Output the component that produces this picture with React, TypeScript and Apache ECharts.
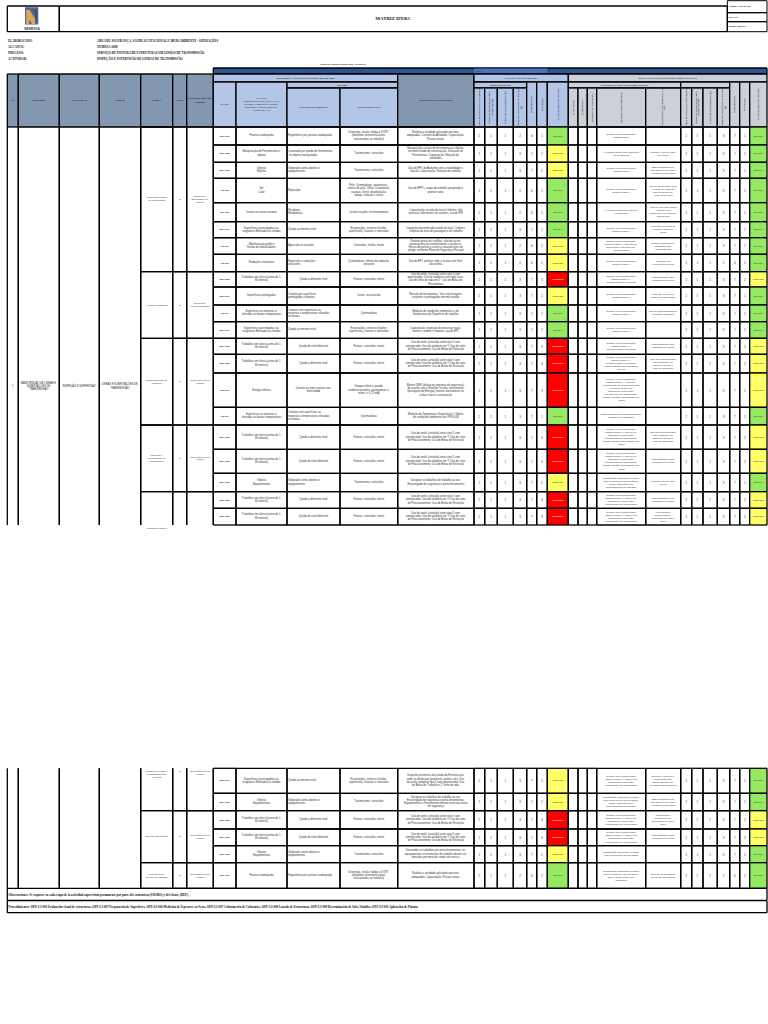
import React, { useEffect, useRef } from "react";
import * as echarts from "echarts";

// ---------------- DATA ----------------
const TITLE = "MATRIZ IPERC";
const DOC_INFO = ["Código: SIG-F-008", "Rev.: 00", "Fecha: 2008/05"];
const INFO_LABELS = ["ELABORACION:", "ALCANCE:", "PROCESO:", "ACTIVIDAD:"];
const INFO_VALUES = [
  "AREA DE SEGURANÇA, SAÚDE OCUPACIONAL E MEIO AMBIENTE - OPERAÇÕES",
  "NUMESA-2008",
  "SERVIÇO DE PINTURA DE ESTRUTURAS EM LINHAS DE TRANSMISSÃO",
  "INSPEÇÃO E SUPERVISÃO DE LINHAS DE TRANSMISSÃO",
];
const FECHA = "Fecha de Creación Matriz Base: 18/08/2010";

const HEAD_LEFT = ["N°", "PROCESO", "ACTIVIDAD", "LUGAR", "TAREA", "TIPO", "RESPONSABLE DE TAREFA"];
const HEAD_EVAL = [
  "ÍNDICE DE PERSONAS EXPUESTAS (A)",
  "ÍNDICE DE PROCEDIMIENTOS EXISTENTES (B)",
  "ÍNDICE DE CAPACITACIÓN (C)",
  "ÍNDICE DE EXPOSICIÓN AL RIESGO (D)",
  "PROBABILIDAD",
  "SEVERIDAD",
  "CLASIFICACIÓN DEL RIESGO",
];
const HEAD_NEW = ["ELIMINACIÓN", "SUSTITUCIÓN", "CONTROL DE INGENIERÍA", "CONTROL ADMINISTRATIVO", "SEÑALIZACIÓN, ADVERTENCIA Y/O EPP"];

const LEFT_TEXTS = ["1", "MANUTENÇÃO DE LINHAS E SUBESTAÇÕES DE TRANSMISSÃO", "INSPEÇÃO E SUPERVISÃO", "LINHAS E SUBESTAÇÕES DE TRANSMISSÃO"];

const TAREAS = ["Verificação perdas de ferramentas", "Acessar à estrutura", "Posicionamento na estrutura", "Inspeção e levantamento de informações", "", "Medidas de ajuste e levantamento dos veículos", "Descida da estrutura", "Segurança de Veículos de Trabalho"];
const TIPOS = ["R", "R", "R", "R", "", "R", "R", "R"];
const RESPONSABLES = ["Supervisor/Encarregado de Campo", "Supervisor/ Técnico Qualidade", "Supervisor/Técnico Campo", "Supervisor/Técnico Campo", "", "Supervisor/Técnico Campo", "Supervisor/Técnico Campo", "Supervisor/Técnico Campo"];

const CLASES = ["ERG-001", "MEC-002", "MEC-003", "FIS-002", "BIO-001", "MEC-004", "PSI-001", "FIS-003", "MEC-005", "MEC-007", "FIS-004", "MEC-004", "MEC-005", "MEC-005", "ELE-001", "FIS-004", "MEC-005", "MEC-005", "MEC-003", "MEC-005", "MEC-005", "MEC-004", "MEC-003", "MEC-005", "MEC-005", "MEC-003", "ERG-001"];

const ALT = "Trabalhos em altura (acima de 1,80 metros)";
const ESC = "Superfícies escorregadias ou irregulares Molhadas ou úmidas";
const OBJ = "Objetos\nEquipamentos";
const TEMP = "Superfícies ou materiais a elevadas ou baixas temperaturas";
const PELIGROS = ["Postura inadequada", "Manipulação de Ferramentas e objetos", "Objetos\nRejeitos", "Sol\nCalor", "Insetos ou outros animais", ESC, "Manifestação pública\nRoubo de trabalhadores", "Radiações ionizantes", ALT, "Superfícies pontiagudas", TEMP, ESC, ALT, ALT, "Energia elétrica", TEMP, ALT, ALT, OBJ, ALT, ALT, ESC, OBJ, ALT, ALT, OBJ, "Postura inadequada"];

const QDN = "Queda a diferente nível";
const QMN = "Queda ao mesmo nível";
const GOL = "Golpeado contra objetos e equipamentos";
const EVENTOS = ["Ergonômico por postura inadequada", "Lesionado por queda de ferramentas ou objetos manipulados", GOL, "Exposição", "Picaduras\nMordeduras", QMN, "Agressão ou assaltos", "Exposição a radiações ionizantes", QDN, "Contato por superfícies pontiagudas cortantes", "Contato com superfícies ou materiais a temperaturas elevadas ou baixas", QMN, "Queda de nível diferente", QDN, "Contato ou semi contato com eletricidade", "Contato com superfícies ou materiais a temperaturas elevadas ou baixas", QDN, "Queda de nível diferente", GOL, QDN, "Queda de nível diferente", QMN, GOL, QDN, "Queda de nível diferente", GOL, "Ergonômico por postura inadequada"];

const FRA = "Fratura, contusões, morte";
const TRA = "Traumatismo, contusões";
const ESCO = "Escoriações, entorses (lesões superficiais), fraturas e contusões";
const CONSECUENCIAS = ["Distensão, torção, fadiga e DORT (distúrbios osteomusculares relacionados ao trabalho)", TRA, TRA, "Pele: Queimaduras, queratoses, câncer de pele. Olhos: Conjuntivite, catarata. Geral: desidratação, fadiga, irritação e stress", "Lesões na pele, envenenamento", ESCO, "Contusões, lesões, morte", "Queimaduras, efeitos de radiação ionizante", FRA, "Cortes, escoriações", "Queimaduras", ESCO, FRA, FRA, "Choque elétrico, parada cardiorrespiratória, queimaduras e morte (> 0,15 mA)", "Queimaduras", FRA, FRA, TRA, FRA, FRA, ESCO, TRA, FRA, FRA, TRA, "Distensão, torção, fadiga e DORT (distúrbios osteomusculares relacionados ao trabalho)"];

const ARN = "Uso de arnês (cinturão) antes tipo II com amortecedor; Uso de talabarte em Y; Uso de cinto de Posicionamento; Uso de Bolsa de Restrição";
const DES = "Designar os trabalhos de trabalho ao seu Encarregado de segurança e porta-ferramentas";
const CONTROLES = [
  "Realizar a atividade aplicando posturas adequadas. Controle da Atividade. Capacitação. Pausas ativas.",
  "Manipulação correta de ferramentas ou objetos em bom estado de conservação. Utilização de Ferramentas. Capacitação. Rotação de atividades.",
  "Uso de EPI, do Andaime com a estabilidade e fixação. Capacitação. Rotação do trabalho.",
  "Uso de EPP's, roupa de trabalho apropriada e protetor solar.",
  "Capacitação, revisão do local e hábitos, não provocar, não mexer nos animais, uso de EPI.",
  "Inspeção preventiva do estado do local. Ordem e Limpeza da área de passagem e de trabalho.",
  "Realizar prova de conflitos, não dar ou ter provocações aos manifestantes e ajudar as Forças de polícia a conter a situação ante um abrigo, conforme Plano de Segurança Pessoal.",
  "Uso de EPI, protetor solar e óculos com filtro ultravioleta.",
  "Uso de arnês (cinturão) antes tipo II com amortecedor; Uso de talabarte com tripla trava; Uso de linha de vida em 2°; Uso de Bolsa de Ferramentas",
  "Revisão de ferramentas. Troca de ferragens cortantes e pontiagudas em mal estado.",
  "Medição de condições ambientais e de Temperatura da Superfície de trabalho.",
  "Capacitação, inspeção do processo visual, manter a ordem e limpeza, uso de EPI.",
  ARN,
  ARN,
  "Manter DMS (distâncias mínimas de segurança) de acordo com o Nível de Tensão; aterramento (drenagem da Energia); manter aterramento na Linha e fazer a autorização.",
  "Medição da Temperatura Superficial e / Tabela de condições ambientais do OPIS-008",
  ARN,
  ARN,
  DES,
  ARN,
  ARN,
  "Inspeção preventiva do estado da Estrutura por onde se deslocará (parafusos, pontas, etc); Uso de arnês completo tipo II com amortecedor; Uso de Bolsa de Trabalho e 2° linha de vida.",
  DES + "; Equipamentos e Ferramentas devem estar nas áreas de segurança.",
  ARN,
  ARN,
  "Descender os trabalhos por porta-ferramentas; os equipamentos e ferramentas de trabalho devem ser descidos por meio de cordas de serviço.",
  "Realizar a atividade aplicando posturas adequadas. Capacitação. Pausas ativas.",
];

// Evaluación de riesgo
const EV_A = [2, 2, 2, 2, 2, 2, 2, 2, 2, 2, 2, 2, 2, 2, 2, 2, 2, 2, 2, 2, 2, 2, 2, 2, 2, 2, 2];
const EV_B = [1, 1, 1, 1, 1, 1, 1, 1, 1, 1, 1, 1, 1, 1, 1, 1, 1, 1, 1, 1, 1, 1, 1, 1, 1, 1, 1];
const EV_C = [1, 1, 1, 1, 1, 1, 1, 1, 1, 1, 1, 1, 1, 1, 1, 1, 1, 1, 1, 1, 1, 1, 1, 1, 1, 1, 1];
const EV_D = [2, 3, 3, 2, 2, 3, 2, 2, 3, 3, 3, 3, 3, 3, 3, 3, 3, 3, 3, 3, 3, 3, 3, 3, 3, 3, 2];
const EV_P = [6, 7, 7, 6, 6, 7, 6, 6, 7, 7, 7, 7, 7, 7, 7, 7, 7, 7, 7, 7, 7, 7, 7, 7, 7, 7, 6];
const EV_S = [1, 2, 2, 1, 1, 1, 2, 2, 3, 2, 1, 1, 3, 3, 3, 1, 3, 3, 2, 3, 3, 2, 2, 3, 3, 2, 1];
const EV_NIVEL = ["Tolerável", "Moderado", "Moderado", "Tolerável", "Tolerável", "Tolerável", "Moderado", "Moderado", "Importante", "Moderado", "Tolerável", "Tolerável", "Importante", "Importante", "Importante", "Tolerável", "Importante", "Importante", "Moderado", "Importante", "Importante", "Moderado", "Moderado", "Importante", "Importante", "Moderado", "Tolerável"];

// Controles nuevos
const CUM = "Cumprir os procedimentos estabelecidos (*)";
const DIR = "Cumprir os procedimentos estabelecidos (*); Diretriz de Segurança; supervisão permanente por especialista";
const CON = "Constatação adequada (Pessoal com experiência) aplicar NOP1; seguir Instruções dos Procedimentos de trabalho";
const NEW_ADMIN = ["Cumprir os procedimentos estabelecidos", "Ao conhecimento das instruções de ferramenta", "Cumprir os procedimentos estabelecidos", CUM, "Ao conhecimento do plano de emergência", CUM, CUM + "; Direção de Segurança e alocação por especialidade", CUM, CUM + "; Sensibilizações periódicas", CUM, CUM, CUM, CUM + "; Sensibilizações periódicas", CUM + "; Sensibilizações periódicas; possuir aptidão para trabalhos aéreos", CUM + " (Tabela); Implantação de segurança pelas técnicas; " + "Diretriz de Segurança; supervisão permanente por especialista; possuir aptidão para trabalho em altura", "Cumprimento dos Procedimentos de trabalho em instruções", DIR + "; possuir aptidão para trabalho em altura", DIR + "; possuir aptidão para trabalho em altura", CON, DIR, DIR, DIR, CON, DIR, DIR, "Constatação adequada (Pessoal com experiência) aplicar NOP1", "Constatação adequada (Pessoal com experiência) aplicar NOP1; DPS e Sinalização para instruções"];
const CIN = "Cinto/Talabarte para Trabalhos em altura";
const EQA = "Uso dos equipamentos para trabalhos em altura de acordo à ficha do fabricante";
const NEW_EPP = ["", "Trocada / Uso de cabo de perigo", "Estar Sinalizado em atividades a executar / Cordas incorporadas", "Uso de Bloqueador solar e roupa de proteção para incidência de raios ultravioleta", "Uso de repelente contra insetos e ser conhecedor do plano de emergência", "Inspeção de áreas de trabalho antes de iniciar", "Manter distâncias de segurança das manifestações", "Minimizar as exposições solares", CIN, "Inspeção e troca de partes em mau estado", "Uso de equipamentos de medição calibrados", "", CIN, EQA, "", "", EQA, CIN, "Cercado Tela de risco perigo", CIN, "Ancoramento / sinalização de segurança no corpo ativo", "Realizar a limpeza e sinalização das áreas, atenção em calçados com bloqueios", "Estar Sinalizado em atividades a executar / Cordas incorporadas", "Ancoramento / sinalização de segurança no corpo ativo", CIN, "", "Realizar as atividades por turnos de trabalho"];

// Reevaluación
const RE_A = [2, 2, 2, 2, 2, 2, 2, 2, 2, 2, 2, 2, 2, 2, 2, 2, 2, 2, 2, 2, 2, 2, 2, 2, 2, 2, 2];
const RE_B = [1, 1, 1, 1, 1, 1, 1, 1, 1, 1, 1, 1, 1, 1, 1, 1, 1, 1, 1, 1, 1, 1, 1, 1, 1, 1, 1];
const RE_C = [1, 1, 1, 1, 1, 1, 1, 1, 1, 1, 1, 1, 1, 1, 1, 1, 1, 1, 1, 1, 1, 1, 1, 1, 1, 1, 1];
const RE_D = [3, 3, 3, 3, 3, 3, 3, 2, 3, 3, 3, 3, 3, 3, 3, 3, 3, 3, 3, 3, 3, 3, 3, 3, 3, 3, 2];
const RE_P = [7, 7, 7, 7, 7, 7, 7, 6, 7, 7, 7, 7, 7, 7, 7, 7, 7, 7, 7, 7, 7, 7, 7, 7, 7, 7, 6];
const RE_S = [1, 1, 1, 1, 1, 1, 1, 1, 2, 1, 1, 1, 2, 2, 2, 1, 2, 2, 1, 2, 2, 1, 1, 2, 2, 1, 1];
const RE_NIVEL = ["Tolerável", "Tolerável", "Tolerável", "Tolerável", "Tolerável", "Tolerável", "Tolerável", "Tolerável", "Moderado", "Tolerável", "Tolerável", "Tolerável", "Moderado", "Moderado", "Moderado", "Tolerável", "Moderado", "Moderado", "Tolerável", "Moderado", "Moderado", "Tolerável", "Tolerável", "Moderado", "Moderado", "Tolerável", "Tolerável"];

const OBSERVACIONES = "Observaciones: Se requiere en cada etapa de la actividad supervisión permanente por parte del contratista (SSOMA) y del cliente (DEP).";
const PROCEDIMIENTOS = "Procedimientos: OPE-LI-001 Evaluación visual de estructuras, OPE-LI-007 Preparación de Superficies, OPE-LI-006 Medición de Espesores en Secos, OPE-LI-007 Colorimetría de Colorantes, OPE-LI-008 Lavado de Estructuras, OPE-LI-009 Determinación de Sales Solubles, OPE-LI-010 Aplicación de Pintura";

// ---------------- LAYOUT ----------------
const W = 768;
const H = 1024;
const SERIF = "'Liberation Serif','DejaVu Serif',serif";
const SANS = "'Liberation Sans','DejaVu Sans',sans-serif";
const C_BLUE_DARK = "#2f5496";
const C_BLUE_L = "#b4c6e7";
const C_GRAY = "#8497b0";
const C_GRAY_L = "#cbd0d9";
const LEVEL_COLOR: Record<string, string> = { "Tolerável": "#95e85f", Moderado: "#ffff66", Importante: "#ff0000" };

const XL = [7.3, 18.3, 59.3, 99.3, 140.7, 172.7, 186.7, 213.3];
const XD = [213.3, 236, 287, 340, 397.7, 474];
const XE = [474, 484.7, 497.3, 513.3, 526.7, 536.7, 547.3, 568.3];
const XN = [568.3, 578, 587.3, 596.7, 645.7, 680.7];
const XR = [680.7, 691.7, 703, 717.3, 729.7, 739.7, 749.7, 767];
const ROWS1 = [127, 145, 162.3, 178.3, 202.7, 221.7, 237.7, 254.3, 271.7, 287, 305, 321.7, 338.3, 354.3, 373, 407.3, 425, 449.3, 473.3, 491.7, 508.3, 525];
const ROWS2 = [768.3, 793.3, 810.7, 829, 845.7, 862.7, 888.3];
const GROUPS = [[0, 7], [8, 11], [12, 15], [16, 18], [19, 20], [21, 22], [23, 25], [26, 26]];
const EVENTO_LEFT = [0, 1, 2, 3, 4, 5, 6, 7, 9, 10, 11, 15, 18, 21, 22, 25, 26];
const LINE_W = 1.3;

type Cell = {
  x0: number; y0: number; x1: number; y1: number;
  fill?: string; b?: string; text?: string; fs?: number; ff?: string; fw?: string;
  color?: string; rot?: boolean; align?: string; valign?: string; lw?: number;
};

function rowY(r: number): [number, number] {
  if (r < 21) return [ROWS1[r], ROWS1[r + 1]];
  return [ROWS2[r - 21], ROWS2[r - 20]];
}

function buildCells(): Cell[] {
  const cells: Cell[] = [];
  const add = (c: Cell) => cells.push(c);
  const HB = { ff: SERIF, fw: "bold", color: "#111" };

  // title box
  add({ x0: 7.3, y0: 6, x1: 59.3, y1: 31.7 });
  add({ x0: 59.3, y0: 6, x1: 727.3, y1: 31.7, text: TITLE, fs: 4.8, ...HB });
  const infoY = [0.7, 12.7, 21.7, 31.7];
  DOC_INFO.forEach((t, i) => add({ x0: 727.3, y0: infoY[i], x1: 767, y1: infoY[i + 1], text: t, fs: 2.7, align: "left", lw: 1, ...HB }));

  // header bars
  add({ x0: 213.3, y0: 68, x1: 767, y1: 74, fill: C_BLUE_DARK });
  add({ x0: 474, y0: 68.6, x1: 547.3, y1: 73.4, fill: "#4c72c0", b: "", text: "ALTO", fs: 2.4, align: "left", ff: SERIF, fw: "bold", color: "#1f3864" });

  // left header
  HEAD_LEFT.forEach((t, i) => add({ x0: XL[i], y0: 74, x1: XL[i + 1], y1: 127, fill: C_GRAY, text: t, fs: 2.7, ...HB }));

  // identification
  add({ x0: 213.3, y0: 74, x1: 397.7, y1: 82, fill: C_BLUE_L, text: "IDENTIFICACIÓN DE FACTORES DE RIESGO", fs: 2.7, ...HB });
  add({ x0: 213.3, y0: 82, x1: 236, y1: 127, fill: C_BLUE_L, text: "CLASE", fs: 2.6, ...HB });
  add({ x0: 236, y0: 82, x1: 287, y1: 127, fill: C_BLUE_L, text: "PELIGRO\n(considerar atividades, parte de seu atividade, o ambiente de trabalho, instalações e equipos, materiais, ferramentas, etc.)", fs: 2.5, ff: SERIF, color: "#111" });
  add({ x0: 287, y0: 82, x1: 397.7, y1: 88, fill: C_BLUE_L, text: "RIESGO", fs: 2.6, ...HB });
  add({ x0: 287, y0: 88, x1: 340, y1: 127, fill: C_BLUE_L, text: "EVENTO PELIGROSO", fs: 2.7, ...HB });
  add({ x0: 340, y0: 88, x1: 397.7, y1: 127, fill: C_BLUE_L, text: "CONSECUENCIAS", fs: 2.7, ...HB });
  add({ x0: 397.7, y0: 74, x1: 474, y1: 127, fill: C_GRAY, text: "CONTROLES EXISTENTES", fs: 2.7, ...HB });

  // evaluation header
  add({ x0: 474, y0: 74, x1: 568.3, y1: 82, fill: C_BLUE_L, text: "EVALUACIÓN DE RIESGO", fs: 2.6, ...HB });
  add({ x0: 474, y0: 82, x1: 526.7, y1: 88, fill: C_BLUE_L, text: "PROBABILIDADE", fs: 2.5, ...HB });
  for (let i = 0; i < 7; i++) {
    const top = i < 4 ? 88 : 82;
    add({ x0: XE[i], y0: top, x1: XE[i + 1], y1: 127, fill: C_BLUE_L, text: HEAD_EVAL[i], fs: 2.2, rot: true, ...HB });
  }

  // re-evaluation header
  add({ x0: 568.3, y0: 74, x1: 767, y1: 82, fill: C_GRAY_L, text: "REEVALUACIÓN DE RIESGOS (PROYECTADA)", fs: 2.6, ...HB });
  add({ x0: 568.3, y0: 82, x1: 680.7, y1: 88, fill: C_GRAY_L, text: "CONTROLES NUEVOS PROGRAMADOS", fs: 2.5, ...HB });
  add({ x0: 680.7, y0: 82, x1: 729.7, y1: 88, fill: C_GRAY_L });
  HEAD_NEW.forEach((t, i) => add({ x0: XN[i], y0: 88, x1: XN[i + 1], y1: 127, fill: C_GRAY_L, text: t, fs: 2.2, rot: true, ...HB }));
  for (let i = 0; i < 7; i++) {
    const top = i < 4 ? 88 : 82;
    add({ x0: XR[i], y0: top, x1: XR[i + 1], y1: 127, fill: C_GRAY_L, text: HEAD_EVAL[i], fs: 2.2, rot: true, ...HB });
  }

  // left merged columns
  for (let i = 0; i < 4; i++) {
    add({ x0: XL[i], y0: 127, x1: XL[i + 1], y1: 525, b: "lr" });
    add({ x0: XL[i], y0: 378, x1: XL[i + 1], y1: 395, b: "", text: LEFT_TEXTS[i], fs: 2.6, color: "#222" });
    add({ x0: XL[i], y0: 768.3, x1: XL[i + 1], y1: 888.3, b: "lr" });
  }

  // task groups
  GROUPS.forEach((g, gi) => {
    const y0 = rowY(g[0])[0];
    const y1 = rowY(g[1])[1];
    const b = gi === 4 ? "tlr" : gi === 5 ? "blr" : "tblr";
    const valign = gi === 5 ? "top" : "middle";
    add({ x0: XL[4], y0, x1: XL[5], y1, b, text: TAREAS[gi], fs: 2.5, valign });
    add({ x0: XL[5], y0, x1: XL[6], y1, b, text: TIPOS[gi], fs: 2.5, valign });
    add({ x0: XL[6], y0, x1: XL[7], y1, b, text: RESPONSABLES[gi], fs: 2.3, valign });
  });
  add({ x0: XL[4], y0: 525, x1: XL[5], y1: 530, b: "", text: "Medidas de ajuste e", fs: 2.3, valign: "top" });

  // data rows
  for (let r = 0; r < CLASES.length; r++) {
    const [y0, y1] = rowY(r);
    const base = { y0, y1, fs: 2.7 };
    add({ ...base, x0: XD[0], x1: XD[1], text: CLASES[r], fw: "bold", fs: 2.4 });
    add({ ...base, x0: XD[1], x1: XD[2], text: PELIGROS[r] });
    add({ ...base, x0: XD[2], x1: XD[3], text: EVENTOS[r], align: EVENTO_LEFT.includes(r) ? "left" : "center" });
    add({ ...base, x0: XD[3], x1: XD[4], text: CONSECUENCIAS[r] });
    add({ ...base, x0: XD[4], x1: XD[5], text: CONTROLES[r] });
    const ev = [EV_A[r], EV_B[r], EV_C[r], EV_D[r], EV_P[r], EV_S[r]];
    ev.forEach((v, i) => add({ ...base, x0: XE[i], x1: XE[i + 1], text: String(v), fs: 2.9 }));
    add({ ...base, x0: XE[6], x1: XE[7], fill: LEVEL_COLOR[EV_NIVEL[r]], text: EV_NIVEL[r], fs: 2.4, color: EV_NIVEL[r] === "Importante" ? "#ffffff" : "#333" });
    add({ ...base, x0: XN[0], x1: XN[1] });
    add({ ...base, x0: XN[1], x1: XN[2] });
    add({ ...base, x0: XN[2], x1: XN[3] });
    add({ ...base, x0: XN[3], x1: XN[4], text: NEW_ADMIN[r], fs: 2.5 });
    add({ ...base, x0: XN[4], x1: XN[5], text: NEW_EPP[r], fs: 2.5 });
    const re = [RE_A[r], RE_B[r], RE_C[r], RE_D[r], RE_P[r], RE_S[r]];
    re.forEach((v, i) => add({ ...base, x0: XR[i], x1: XR[i + 1], text: String(v), fs: 2.9 }));
    add({ ...base, x0: XR[6], x1: XR[7], fill: LEVEL_COLOR[RE_NIVEL[r]], text: RE_NIVEL[r], fs: 2.4, color: "#333" });
  }

  // footer
  add({ x0: 7.3, y0: 888.3, x1: 767, y1: 900.3, text: OBSERVACIONES, fs: 3.1, align: "left", ff: SERIF, fw: "bold", color: "#111" });
  add({ x0: 7.3, y0: 900.7, x1: 767, y1: 912.7, text: PROCEDIMIENTOS, fs: 3.1, align: "left", ff: SERIF, fw: "bold", color: "#111" });
  return cells;
}

export default function App() {
  const ref = useRef<HTMLDivElement>(null);
  useEffect(() => {
    if (!ref.current) return;
    const chart = echarts.init(ref.current, undefined, { renderer: "svg", width: W, height: H });
    const cells = buildCells();

    const graphic: any[] = [
      { type: "rect", shape: { x: 25, y: 7.2, width: 13.3, height: 17.3 }, style: { fill: "#56688c" } },
      { type: "polygon", shape: { points: [[26.2, 24.5], [26.2, 10], [29.5, 10], [35, 18.5], [35, 24.5], [32.2, 24.5], [29.2, 19.5], [29.2, 24.5]] }, style: { fill: "#e2a458" } },
      { type: "polygon", shape: { points: [[32.5, 10], [37, 10], [37, 22], [35, 18.5], [35, 12]] }, style: { fill: "#3e4f70" } },
      { type: "text", style: { text: "NEMESYA", x: 32, y: 28.3, align: "center", verticalAlign: "middle", fontSize: 3.2, fontWeight: "bold", fontFamily: SANS, fill: "#2b3a67" } },
      { type: "text", style: { text: FECHA, x: 343, y: 64.7, align: "center", verticalAlign: "middle", fontSize: 2.5, fontWeight: "bold", fontFamily: SERIF, fill: "#111" } },
    ];
    const infoY = [40.7, 46.3, 52.3, 58.3];
    INFO_LABELS.forEach((t, i) => {
      graphic.push({ type: "text", style: { text: t, x: 8, y: infoY[i], verticalAlign: "middle", fontSize: 3.1, fontWeight: "bold", fontFamily: SERIF, fill: "#111" } });
      graphic.push({ type: "text", style: { text: INFO_VALUES[i], x: 97, y: infoY[i], verticalAlign: "middle", fontSize: 3.1, fontWeight: "bold", fontFamily: SERIF, fill: "#111" } });
    });

    const option: any = {
      animation: false,
      grid: { left: 0, right: 0, top: 0, bottom: 0 },
      xAxis: { type: "value", min: 0, max: W, show: false },
      yAxis: { type: "value", min: 0, max: H, inverse: true, show: false },
      graphic,
      series: [
        {
          type: "custom",
          coordinateSystem: "cartesian2d",
          silent: true,
          clip: false,
          progressive: 0,
          encode: { x: [0, 2], y: [1, 3] },
          data: cells.map((c) => [c.x0, c.y0, c.x1, c.y1]),
          renderItem: (params: any, api: any) => {
            const c = cells[params.dataIndex];
            const a = api.coord([c.x0, c.y0]);
            const b = api.coord([c.x1, c.y1]);
            const x = a[0], y = a[1], w = b[0] - a[0], h = b[1] - a[1];
            const ch: any[] = [];
            if (c.fill) ch.push({ type: "rect", shape: { x, y, width: w, height: h }, style: { fill: c.fill } });
            const bd = c.b === undefined ? "tblr" : c.b;
            const ls = { stroke: "#000", lineWidth: c.lw || LINE_W };
            if (bd.includes("t")) ch.push({ type: "line", shape: { x1: x, y1: y, x2: x + w, y2: y }, style: ls });
            if (bd.includes("b")) ch.push({ type: "line", shape: { x1: x, y1: y + h, x2: x + w, y2: y + h }, style: ls });
            if (bd.includes("l")) ch.push({ type: "line", shape: { x1: x, y1: y, x2: x, y2: y + h }, style: ls });
            if (bd.includes("r")) ch.push({ type: "line", shape: { x1: x + w, y1: y, x2: x + w, y2: y + h }, style: ls });
            if (c.text) {
              const fs = c.fs || 2.7;
              const st: any = {
                text: c.text,
                fill: c.color || "#333",
                fontSize: fs,
                fontFamily: c.ff || SANS,
                fontWeight: c.fw || "normal",
                lineHeight: fs * 1.22,
                overflow: "break",
              };
              if (c.rot) {
                ch.push({ type: "text", x: x + w / 2, y: y + h / 2, rotation: Math.PI / 2, style: { ...st, x: 0, y: 0, align: "center", verticalAlign: "middle", width: h - 2 } });
              } else {
                const al = c.align || "center";
                const tx = al === "left" ? x + 1.2 : x + w / 2;
                const va = c.valign || "middle";
                const ty = va === "top" ? y + 1.5 : y + h / 2;
                ch.push({ type: "text", style: { ...st, x: tx, y: ty, align: al, verticalAlign: va, width: Math.max(2, w - 2) } });
              }
            }
            return { type: "group", children: ch };
          },
        },
      ],
    };
    chart.setOption(option);
    return () => chart.dispose();
  }, []);
  return (
    <div
      ref={ref}
      style={{ position: "fixed", left: 0, top: 0, width: W, height: H, background: "#ffffff" }}
    />
  );
}
